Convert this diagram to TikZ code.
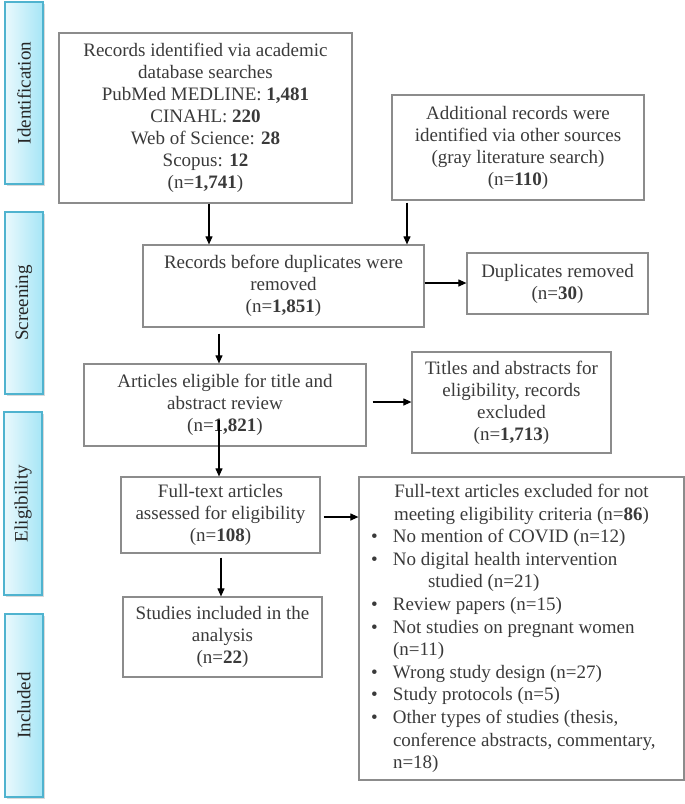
\documentclass[tikz,border=0pt]{standalone}
\usepackage{fontspec}
\setmainfont{Liberation Serif}
\usetikzlibrary{arrows.meta,shadows,calc}
\definecolor{boxgray}{HTML}{8C8C8C}
\definecolor{txt}{HTML}{3A3A3A}
\definecolor{stageborder}{HTML}{4FB3CF}
\definecolor{stageL}{HTML}{EAF9FD}
\definecolor{stageR}{HTML}{A6E6F6}
\newcommand\blt[1]{\makebox[34pt][l]{\hspace{12pt}\textbullet}#1}
\newcommand\cnt[1]{\hspace*{34pt}#1}
\begin{document}
\begin{tikzpicture}[x=1pt,y=-1pt,
  font=\fontsize{19}{22}\selectfont,
  box/.style={draw=boxgray, line width=1.2pt, text=txt, align=center, inner sep=0pt},
  stagebox/.style={draw=stageborder, line width=1.3pt, left color=stageL, right color=stageR,
    drop shadow={shadow xshift=1.5pt, shadow yshift=-1.5pt, opacity=0.3},
    inner sep=0pt, minimum width=38pt, minimum height=182pt, text=black!85},
  arr/.style={-{Triangle[length=8pt,width=7pt]}, line width=1.1pt, black}]
\useasboundingbox (0,0) rectangle (685,804);

% stage bars
\node[stagebox] (s1) at (24,93) {\rotatebox{90}{Identification}};
\node[stagebox] (s2) at (24,303) {\rotatebox{90}{Screening}};
\node[stagebox, minimum height=183pt] (s3) at (23,503.5) {\rotatebox{90}{Eligibility}};
\node[stagebox, minimum height=183pt] (s4) at (24,705.5) {\rotatebox{90}{Included}};

% boxes
\node[box, minimum width=293pt, minimum height=170pt] (b1) at (205.5,118)
  {Records identified via academic\\ database searches\\ PubMed MEDLINE: \textbf{1,481}\\ CINAHL: \textbf{220}\\ Web of Science: \textbf{28}\\ Scopus: \textbf{12}\\ (n=\textbf{1,741})};
\node[box, minimum width=252pt, minimum height=105pt] (b2) at (518,147.5)
  {Additional records were\\ identified via other sources\\ (gray literature search)\\ (n=\textbf{110})};
\node[box, minimum width=281pt, minimum height=82pt] (b3) at (283.5,286)
  {Records before duplicates were\\ removed\\ (n=\textbf{1,851})};
\node[box, minimum width=181pt, minimum height=61pt] (dup) at (557.5,283.5)
  {Duplicates removed\\ (n=\textbf{30})};
\node[box, minimum width=282pt, minimum height=82pt] (b4) at (225,405)
  {Articles eligible for title and\\ abstract review\\ (n=\textbf{1,821})};
\node[box, minimum width=199pt, minimum height=101pt] (tit) at (511.5,402.5)
  {Titles and abstracts for\\ eligibility, records\\ excluded\\ (n=\textbf{1,713})};
\node[box, minimum width=199pt, minimum height=76pt] (b5) at (220.5,515)
  {Full-text articles\\ assessed for eligibility\\ (n=\textbf{108})};
\node[box, minimum width=199pt, minimum height=80pt] (b7) at (222.5,637)
  {Studies included in the\\ analysis\\ (n=\textbf{22})};
\node[box, minimum width=325pt, minimum height=303pt, align=left] (b6) at (521.5,628.5)
  {\begin{minipage}{325pt}\fontsize{19}{22.6}\selectfont
   {\centering Full-text articles excluded for not\\ meeting eligibility criteria (n=\textbf{86})\par}
   \raggedright
   \blt{No mention of COVID (n=12)}\\
   \blt{No digital health intervention}\\
   \cnt{\hspace*{35pt}studied (n=21)}\\
   \blt{Review papers (n=15)}\\
   \blt{Not studies on pregnant women}\\
   \cnt{(n=11)}\\
   \blt{Wrong study design (n=27)}\\
   \blt{Study protocols (n=5)}\\
   \blt{Other types of studies (thesis,}\\
   \cnt{conference abstracts, commentary,}\\
   \cnt{n=18)}\par
   \end{minipage}};

% helper coordinates
\coordinate (xA) at (209,0);
\coordinate (xB) at (407,0);
\coordinate (yC) at (0,283);
\coordinate (xD) at (219,0);
\coordinate (yE) at (0,402);
\coordinate (a6s) at (219,420);
\coordinate (yF) at (0,517);
\coordinate (xG) at (221,0);

% arrows
\draw[arr] (b1.south -| xA) -- (b3.north -| xA);
\draw[arr, shorten <=2pt] (b2.south -| xB) -- (b3.north -| xB);
\draw[arr] (b3.east |- yC) -- (dup.west |- yC);
\draw[arr, shorten <=6pt] (b3.south -| xD) -- (b4.north -| xD);
\draw[arr, shorten <=6pt] (b4.east |- yE) -- (tit.west |- yE);
\draw[arr] (a6s) -- (b5.north -| a6s);
\draw[arr, shorten <=3pt] (b5.east |- yF) -- (b6.west |- yF);
\draw[arr, shorten <=4pt] (b5.south -| xG) -- (b7.north -| xG);
\end{tikzpicture}
\end{document}
